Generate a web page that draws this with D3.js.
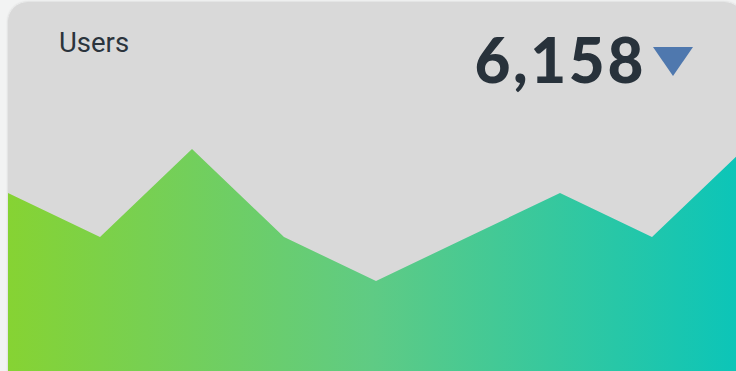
<!DOCTYPE html>
<html>
<head>
<meta charset="utf-8">
<script src="https://cdn.jsdelivr.net/npm/d3@7"></script>
<style>
  html, body { margin: 0; padding: 0; background: #f2f3f3; overflow: hidden; }
</style>
</head>
<body>
<div id="chart"></div>
<script>
const days = ["1", "2", "3", "4", "5", "6", "7", "8", "9"];
const users = [40, 30, 50, 30, 20, 30, 40, 30, 50];
const title = "Users";
const total = 6158;

const W = 736, H = 371;

const svg = d3.select("#chart").append("svg")
  .attr("width", W)
  .attr("height", H);

const defs = svg.append("defs");

const grad = defs.append("linearGradient")
  .attr("id", "area-grad")
  .attr("gradientUnits", "userSpaceOnUse")
  .attr("x1", 8).attr("y1", 0)
  .attr("x2", 736).attr("y2", 0);
grad.append("stop").attr("offset", "0%").attr("stop-color", "#86d333");
grad.append("stop").attr("offset", "50%").attr("stop-color", "#5fcb84");
grad.append("stop").attr("offset", "100%").attr("stop-color", "#0cc5b8");

const filter = defs.append("filter").attr("id", "shadow")
  .attr("x", "-5%").attr("y", "-5%").attr("width", "110%").attr("height", "110%");
filter.append("feDropShadow")
  .attr("dx", 0).attr("dy", 0).attr("stdDeviation", 1.2)
  .attr("flood-color", "#000").attr("flood-opacity", 0.18);

defs.append("clipPath").attr("id", "card-clip")
  .append("rect")
  .attr("x", 8).attr("y", 2)
  .attr("width", 736).attr("height", 400)
  .attr("rx", 20);

// card
svg.append("rect")
  .attr("x", 8).attr("y", 2)
  .attr("width", 736).attr("height", 400)
  .attr("rx", 20)
  .attr("fill", "#d9d9d9")
  .attr("filter", "url(#shadow)");

const x = d3.scalePoint()
  .domain(days)
  .range([8, 744]);

const y = d3.scaleLinear()
  .domain([0, 50])
  .range([369, 149]);

const area = d3.area()
  .x((d, i) => x(days[i]))
  .y0(H + 10)
  .y1(d => y(d));

svg.append("g")
  .attr("clip-path", "url(#card-clip)")
  .append("path")
  .datum(users)
  .attr("d", area)
  .attr("fill", "url(#area-grad)");

svg.append("text")
  .attr("x", 59)
  .attr("y", 52)
  .attr("font-family", "Roboto, 'Noto Sans', sans-serif")
  .attr("font-size", 27.5)
  .attr("fill", "#2b343c")
  .text(title);

svg.append("text")
  .attr("x", 646)
  .attr("y", 83)
  .attr("text-anchor", "end")
  .attr("font-family", "Lato, sans-serif")
  .attr("font-weight", 900)
  .attr("font-size", 62)
  .attr("letter-spacing", 2.6)
  .attr("fill", "#28323b")
  .text(d3.format(",")(total));

svg.append("path")
  .attr("d", "M653,47 L693,47 L673,76 Z")
  .attr("fill", "#4f78ae");
</script>
</body>
</html>
